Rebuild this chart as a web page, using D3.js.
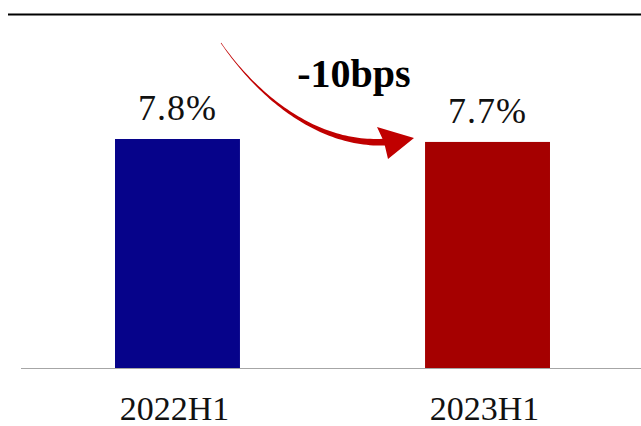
<!DOCTYPE html>
<html>
<head>
<meta charset="utf-8">
<script src="https://cdn.jsdelivr.net/npm/d3@7"></script>
<style>
  html, body { margin: 0; padding: 0; background: #fff; }
  svg { display: block; font-family: "Liberation Serif", "Times New Roman", serif; }
</style>
</head>
<body>
<svg id="chart" width="641" height="426"></svg>
<script>
// Period labels and ratio values (%)
const categories = ["2022H1", "2023H1"];
const values = [7.8, 7.7];
const barColors = ["#06038a", "#a50000"];
const changeLabel = "-10bps";

const W = 641, H = 426;
const baseY = 368;
const svg = d3.select("#chart");

const x = d3.scaleBand().domain(categories).range([22, 643]).paddingInner(0.597).paddingOuter(0.3);
const y = d3.scaleLinear().domain([0, 7.8]).range([baseY, 139]);

// Top rule
svg.append("line")
  .attr("x1", 8).attr("x2", W).attr("y1", 14.5).attr("y2", 14.5)
  .attr("stroke", "#000").attr("stroke-width", 2);

// Bars
svg.selectAll("rect.bar").data(values).join("rect")
  .attr("class", "bar")
  .attr("x", (d, i) => x(categories[i]))
  .attr("width", x.bandwidth())
  .attr("y", d => y(d))
  .attr("height", d => baseY - y(d))
  .attr("fill", (d, i) => barColors[i]);

// Baseline
svg.append("line")
  .attr("x1", 21).attr("x2", W).attr("y1", baseY + 0.5).attr("y2", baseY + 0.5)
  .attr("stroke", "#a6a6a6").attr("stroke-width", 1.2);

// Value labels
svg.selectAll("text.val").data(values).join("text")
  .attr("class", "val")
  .attr("x", (d, i) => x(categories[i]) + x.bandwidth() / 2)
  .attr("y", d => y(d) - 19)
  .attr("text-anchor", "middle")
  .attr("font-size", 36)
  .attr("letter-spacing", 1)
  .attr("fill", "#111")
  .text(d => d.toFixed(1) + "%");

// Category axis labels
svg.selectAll("text.cat").data(categories).join("text")
  .attr("class", "cat")
  .attr("x", d => x(d) + x.bandwidth() / 2 - 3)
  .attr("y", 420)
  .attr("text-anchor", "middle")
  .attr("font-size", 34)
  .attr("fill", "#111")
  .text(d => d);

// Curved, tapering arrow between the two bars
(function drawArrow() {
  const p0 = [221, 43], p1 = [262, 102], p2 = [322, 146], p3 = [386, 142];
  const bez = (t, k) => {
    const u = 1 - t;
    return u*u*u*p0[k] + 3*u*u*t*p1[k] + 3*u*t*t*p2[k] + t*t*t*p3[k];
  };
  const dbez = (t, k) => {
    const u = 1 - t;
    return 3*u*u*(p1[k]-p0[k]) + 6*u*t*(p2[k]-p1[k]) + 3*t*t*(p3[k]-p2[k]);
  };
  const n = 60, left = [], right = [];
  for (let i = 0; i <= n; i++) {
    const t = i / n;
    const px = bez(t, 0), py = bez(t, 1);
    const dx = dbez(t, 0), dy = dbez(t, 1);
    const len = Math.hypot(dx, dy) || 1;
    const nx = -dy / len, ny = dx / len;
    const w = 0.3 + 3.2 * Math.pow(t, 1.3);
    left.push([px + nx * w, py + ny * w]);
    right.push([px - nx * w, py - ny * w]);
  }
  const body = left.concat(right.reverse());
  svg.append("path")
    .attr("d", d3.line()(body) + "Z")
    .attr("fill", "#c00000");
  // head
  const tip = [414, 138];
  svg.append("path")
    .attr("d", d3.line()([[377, 127], tip, [388, 159], [384, 142]]) + "Z")
    .attr("fill", "#c00000");
})();

// Change annotation
svg.append("text")
  .attr("x", 354)
  .attr("y", 87)
  .attr("text-anchor", "middle")
  .attr("font-size", 40)
  .attr("font-weight", "bold")
  .attr("fill", "#000")
  .text(changeLabel);
</script>
</body>
</html>
